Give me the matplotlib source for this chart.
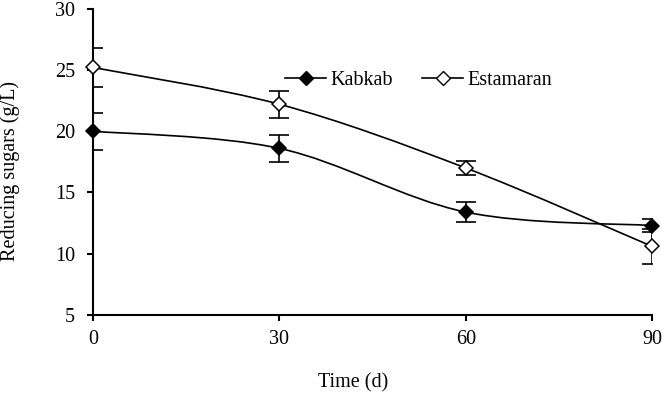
import numpy as np
import matplotlib.pyplot as plt
from matplotlib.path import Path
from matplotlib.patches import PathPatch
from matplotlib.lines import Line2D

# data
days = [0, 30, 60, 90]
kabkab = [20.0, 18.6, 13.4, 12.3]
kabkab_err = [1.5, 1.1, 0.8, 0.5]
estamaran = [25.2, 22.2, 17.0, 10.6]
estamaran_err = [1.6, 1.1, 0.6, 1.4]


def smooth_path(x, y):
    # Excel-style smoothed line: cubic Bezier through the points
    pts = np.column_stack([x, y]).astype(float)
    ext = np.vstack([pts[0], pts, pts[-1]])
    verts = [pts[0]]
    codes = [Path.MOVETO]
    for i in range(1, len(ext) - 2):
        p0, p1, p2, p3 = ext[i - 1], ext[i], ext[i + 1], ext[i + 2]
        c1 = p1 + (p2 - p0) / 6.0
        c2 = p2 - (p3 - p1) / 6.0
        verts += [c1, c2, p2]
        codes += [Path.CURVE4] * 3
    return Path(verts, codes)


plt.rcParams['font.family'] = ['Liberation Serif', 'DejaVu Serif']
plt.rcParams['font.size'] = 14.5

fig = plt.figure(figsize=(6.62, 3.94), dpi=100)
ax = fig.add_axes([0.1405, 0.2005, 0.8445, 0.7775])

for vals, errs, face in [(kabkab, kabkab_err, 'black'), (estamaran, estamaran_err, 'white')]:
    ax.add_patch(PathPatch(smooth_path(days, vals), fill=False, lw=1.2, color='black', zorder=2))
    ax.errorbar(days, vals, yerr=errs, fmt='none', ecolor='black', elinewidth=1.2,
                capsize=7, capthick=1.2, zorder=3)
    ax.plot(days, vals, ls='none', marker='D', ms=7.5, mfc=face, mec='black', mew=1.1,
            zorder=4, clip_on=False)

ax.set_xlim(0, 90)
ax.set_ylim(5, 30)
ax.set_xticks([0, 30, 60, 90])
ax.set_yticks([5, 10, 15, 20, 25, 30])

for s in ['top', 'right']:
    ax.spines[s].set_visible(False)
for s in ['left', 'bottom']:
    ax.spines[s].set_linewidth(1.5)

ax.tick_params(axis='y', direction='out', length=4, width=1.5, pad=9)
ax.tick_params(axis='x', direction='out', length=4, width=1.5, pad=7)

ax.set_xlabel('Time (d)')
ax.set_ylabel('Reducing sugars (g/L)')
ax.xaxis.set_label_coords(0.465, -0.19)
ax.yaxis.set_label_coords(-0.13, 0.47)

handles = [
    Line2D([], [], color='black', lw=1.2, marker='D', ms=7.5, mfc='black', mec='black'),
    Line2D([], [], color='black', lw=1.2, marker='D', ms=7.5, mfc='white', mec='black'),
]
ax.legend(handles, ['Kabkab', 'Estamaran'], ncol=2, frameon=False,
          loc='center', bbox_to_anchor=(0.583, 0.765), handlelength=2.0,
          columnspacing=1.45, handletextpad=0.25)

fig.savefig('out.png', dpi=100)
